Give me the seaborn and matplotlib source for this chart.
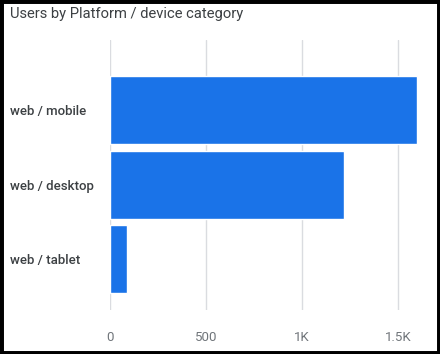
import matplotlib
matplotlib.use("Agg")
import matplotlib.pyplot as plt
import seaborn as sns
import pandas as pd
from matplotlib.patches import Rectangle

categories = ["web / mobile", "web / desktop", "web / tablet"]
users = [1600, 1220, 90]
xticks = [0, 500, 1000, 1500]
xtick_labels = ["0", "500", "1K", "1.5K"]

df = pd.DataFrame({"category": categories, "users": users})

sns.set_theme(style="white")
plt.rcParams['font.family'] = ['Roboto', 'DejaVu Sans']

W, H = 440, 354
fig = plt.figure(figsize=(W / 100, H / 100), dpi=100)
ax = fig.add_axes([110 / W, 1 - 310 / H, (421 - 110) / W, (310 - 40) / H])

sns.barplot(data=df, x="users", y="category", orient="h", color="#1a73e8",
            saturation=1, width=0.91, ax=ax, zorder=3)

ax.set_xlim(0, 1620)
ax.set_ylim(2.68, -0.94)
ax.set_xticks(xticks)
ax.set_xticklabels(xtick_labels)
ax.grid(axis="x", color="#dadce0", linewidth=1, zorder=0)
ax.grid(axis="y", visible=False)
for s in ax.spines.values():
    s.set_visible(False)
ax.set_xlabel("")
ax.set_ylabel("")
ax.tick_params(axis="x", length=0, pad=15, labelsize=9.5, labelcolor="#70757a")
ax.tick_params(axis="y", length=5, width=0.8, color="#dadce0", pad=67,
               labelsize=9.5, labelcolor="#3c4043")
for lab in ax.get_yticklabels():
    lab.set_ha("left")
    lab.set_fontweight("medium")

fig.text(10 / W, 1 - 14 / H, "Users by Platform / device category", fontsize=10.6,
         color="#3c4043", ha="left", va="center")

fig.patches.append(Rectangle((0, 0), 1, 1, transform=fig.transFigure, fill=False,
                             edgecolor="black", linewidth=5, zorder=10))

fig.savefig("out.png", dpi=100)
